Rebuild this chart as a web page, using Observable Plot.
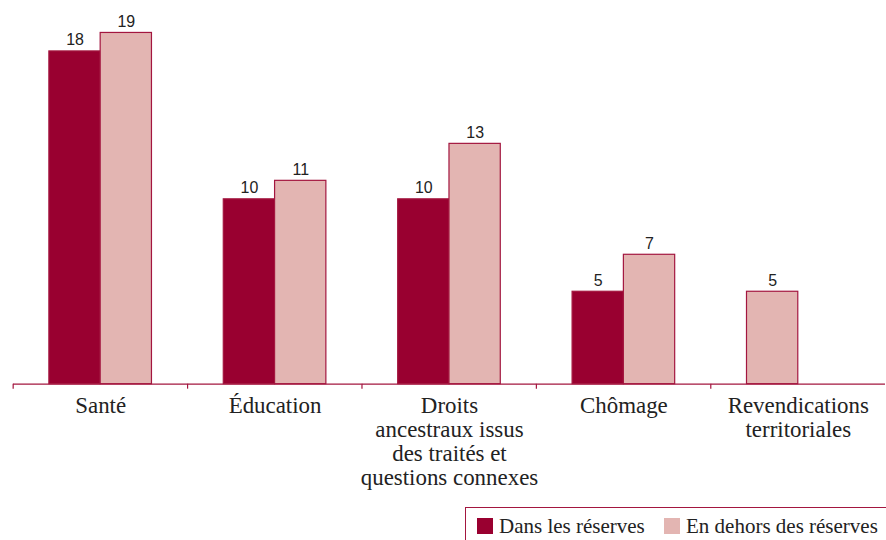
<!DOCTYPE html>
<html><head><meta charset="utf-8">
<script src="https://cdn.jsdelivr.net/npm/d3@7"></script>
<script src="https://cdn.jsdelivr.net/npm/@observablehq/plot@0.6"></script>
<style>
html,body{margin:0;padding:0;background:#fff;}
body{width:886px;height:540px;overflow:hidden;position:relative;}
#chart svg{display:block;}
#legend{position:absolute;left:465px;top:507px;width:440px;height:40px;border:1px solid #a3163f;box-sizing:border-box;
  font-family:"Liberation Serif","DejaVu Serif",serif;font-size:21px;color:#222;}
.item{position:absolute;top:6px;display:flex;align-items:center;white-space:nowrap;line-height:24px;}
.sw{width:16px;height:16px;margin-right:6px;box-sizing:border-box;}
</style></head><body>
<div id="chart"></div>
<div id="legend"></div>
<script>
const categories = ["Santé","Éducation","Droits ancestraux issus des traités et questions connexes","Chômage","Revendications territoriales"];
const categoryLabels = ["Santé","Éducation","Droits\nancestraux issus\ndes traités et\nquestions connexes","Chômage","Revendications\nterritoriales"];
const series = ["Dans les réserves","En dehors des réserves"];
const dansValues = [18, 10, 10, 5, null];
const horsValues = [19, 11, 13, 7, 5];
const colors = ["#990030", "#e3b5b2"];
const edge = "#a3163f";
const ink = "#222";
const serif = "Liberation Serif, DejaVu Serif, serif";
const narrow = "Liberation Sans Narrow, Liberation Sans, Arial, sans-serif";

// rows: bars are packed from the left of each group
const rows = [];
categories.forEach((c, i) => {
  const present = [[series[0], dansValues[i]], [series[1], horsValues[i]]].filter(d => d[1] != null);
  present.forEach(([s, v], k) => rows.push({category: c, series: s, value: v, slot: k}));
});

const W = 889, H = 505, mT = 14, mB = 120, mL = 11, mR = 0;
const step = (W - mL - mR) / categories.length;

const chart = Plot.plot({
  width: W, height: H, marginTop: mT, marginBottom: mB, marginLeft: mL, marginRight: mR,
  style: {background: "#fff"},
  fx: {domain: categories, padding: 0, label: null},
  x: {type: "band", domain: [0, 1], paddingInner: 0, paddingOuter: 0.7, round: false, axis: null},
  y: {domain: [0, 20], axis: null},
  color: {domain: series, range: colors},
  marks: [
    Plot.barY(rows, {fx: "category", x: "slot", y: "value", fill: "series", stroke: edge, strokeWidth: 1.2}),
    Plot.ruleY([0], {stroke: edge, strokeWidth: 1.2}),
    Plot.axisFx({anchor: "bottom", label: null, tickSize: 5, tickFormat: () => "", dx: -step / 2, stroke: edge, strokeWidth: 1.2}),
    Plot.text(rows, {fx: "category", x: "slot", y: "value", text: d => String(d.value), lineAnchor: "bottom", dy: -6,
      fontFamily: narrow, fontSize: 16, fill: ink}),
    Plot.text(categories, {fx: d => d, text: (d, i) => categoryLabels[i], frameAnchor: "bottom", lineAnchor: "top", dy: 12,
      fontFamily: serif, fontSize: 23, lineHeight: 24 / 23, fill: ink})
  ]
});
document.getElementById("chart").appendChild(chart);

const legend = document.getElementById("legend");
const lefts = [11, 198];
series.forEach((s, i) => {
  const it = document.createElement("div");
  it.className = "item";
  it.style.left = lefts[i] + "px";
  const sw = document.createElement("span");
  sw.className = "sw";
  sw.style.background = colors[i];
  const t = document.createElement("span");
  t.textContent = s;
  it.appendChild(sw); it.appendChild(t);
  legend.appendChild(it);
});
</script>
</body></html>
